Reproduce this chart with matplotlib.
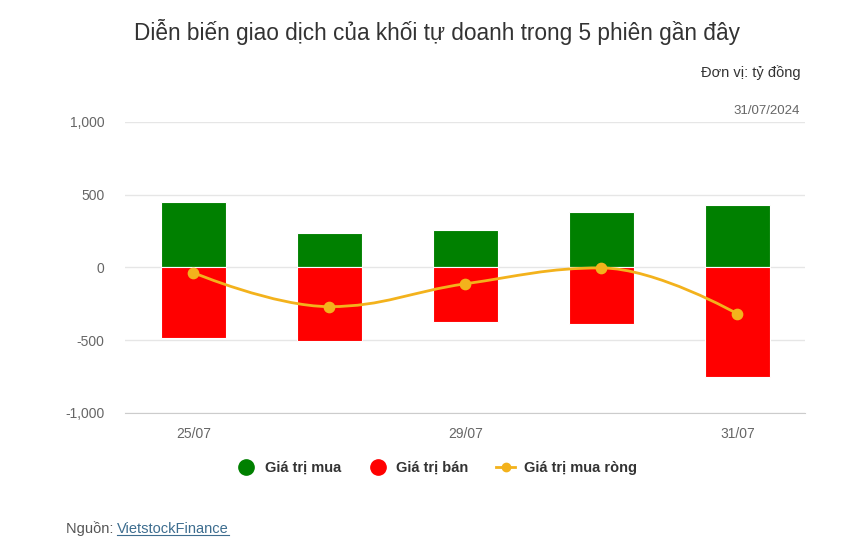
import matplotlib.pyplot as plt
from matplotlib.path import Path
from matplotlib.patches import PathPatch
from matplotlib.lines import Line2D

plt.rcParams['font.family'] = ['Liberation Sans', 'DejaVu Sans']

# Data (ty dong)
dates = ['25/07', '26/07', '29/07', '30/07', '31/07']
buy_values = [449, 234, 261, 380, 431]
sell_values = [-488, -504, -375, -385, -754]
net_values = [-36, -269, -112, -3, -318]
shown_ticks = ['25/07', '29/07', '31/07']

green = '#008000'
red = '#ff0000'
orange = '#f3b21c'
text_gray = '#666666'

fig = plt.figure(figsize=(8.45, 5.56), dpi=100)
ax = fig.add_axes([0.1485, 0.2572, 0.8045, 0.5234])

x = list(range(len(dates)))
ax.bar(x, buy_values, width=0.48, color=green, edgecolor='white', linewidth=0.8, zorder=2)
ax.bar(x, sell_values, width=0.48, color=red, edgecolor='white', linewidth=0.8, zorder=2)


# smooth line like a Highcharts spline
def spline_path(xs, ys, smoothing=1.5):
    n = len(xs)
    left = [(xs[i], ys[i]) for i in range(n)]
    right = [(xs[i], ys[i]) for i in range(n)]
    denom = smoothing + 1
    for i in range(1, n - 1):
        px, py = xs[i], ys[i]
        lx, ly = xs[i - 1], ys[i - 1]
        nx, ny = xs[i + 1], ys[i + 1]
        lcx = (smoothing * px + lx) / denom
        lcy = (smoothing * py + ly) / denom
        rcx = (smoothing * px + nx) / denom
        rcy = (smoothing * py + ny) / denom
        corr = (rcy - lcy) * (rcx - px) / (rcx - lcx) + py - rcy
        lcy += corr
        rcy += corr
        if lcy > ly and lcy > py:
            lcy = max(ly, py)
            rcy = 2 * py - lcy
        elif lcy < ly and lcy < py:
            lcy = min(ly, py)
            rcy = 2 * py - lcy
        if rcy > ny and rcy > py:
            rcy = max(ny, py)
            lcy = 2 * py - rcy
        elif rcy < ny and rcy < py:
            rcy = min(ny, py)
            lcy = 2 * py - rcy
        left[i] = (lcx, lcy)
        right[i] = (rcx, rcy)
    verts = [(xs[0], ys[0])]
    codes = [Path.MOVETO]
    for i in range(n - 1):
        verts += [right[i], left[i + 1], (xs[i + 1], ys[i + 1])]
        codes += [Path.CURVE4] * 3
    return Path(verts, codes)


ax.add_patch(PathPatch(spline_path(x, net_values), facecolor='none',
                       edgecolor=orange, linewidth=2, zorder=3))
ax.scatter(x, net_values, s=55, color=orange, zorder=4)

ax.set_xlim(-0.5, len(dates) - 0.5)
ax.set_ylim(-1000, 1000)
ax.set_yticks([-1000, -500, 0, 500, 1000])
ax.set_yticklabels(['-1,000', '-500', '0', '500', '1,000'])
ax.set_xticks([dates.index(d) for d in shown_ticks])
ax.set_xticklabels(shown_ticks)
ax.tick_params(axis='both', length=0, labelsize=10, colors=text_gray)
ax.tick_params(axis='y', pad=15)
ax.tick_params(axis='x', pad=10)
ax.grid(axis='y', color='#e6e6e6', linewidth=1, zorder=0)
ax.set_axisbelow(True)
for side in ['top', 'right', 'left']:
    ax.spines[side].set_visible(False)
ax.spines['bottom'].set_color('#cccccc')

fig.text(0.517, 0.942, 'Diễn biến giao dịch của khối tự doanh trong 5 phiên gần đây',
         ha='center', va='center', fontsize=16.3, color='#333333')
fig.text(0.947, 0.869, 'Đơn vị: tỷ đồng', ha='right', va='center', fontsize=10.5, color='#333333')
fig.text(0.947, 0.800, '31/07/2024', ha='right', va='center', fontsize=9.5, color=text_gray)

handles = [
    Line2D([], [], marker='o', color='none', markerfacecolor=green, markeredgecolor=green, markersize=11),
    Line2D([], [], marker='o', color='none', markerfacecolor=red, markeredgecolor=red, markersize=11),
    Line2D([], [], marker='o', color=orange, linewidth=2, markersize=6),
]
labels = ['Giá trị mua', 'Giá trị bán', 'Giá trị mua ròng']
leg = fig.legend(handles, labels, loc='center', bbox_to_anchor=(0.517, 0.158), ncol=3,
                 frameon=False, handlelength=1.3, handletextpad=0.6, columnspacing=1.9,
                 prop={'weight': 'bold', 'size': 10.5})
for t in leg.get_texts():
    t.set_color('#333333')

src = fig.text(0.078, 0.049, 'Nguồn: ', ha='left', va='center', fontsize=10.5, color='#555555')
fig.canvas.draw()
bb = src.get_window_extent()
link_x = bb.x1 / fig.bbox.width
link = fig.text(link_x, 0.049, 'VietstockFinance', ha='left', va='center', fontsize=10.5, color='#3d6d8f')
fig.canvas.draw()
lb = link.get_window_extent()
uy = (lb.y0 + 1) / fig.bbox.height
fig.add_artist(Line2D([lb.x0 / fig.bbox.width, lb.x1 / fig.bbox.width], [uy, uy],
                      color='#3d6d8f', linewidth=0.8))

plt.savefig('out.png', dpi=100)
